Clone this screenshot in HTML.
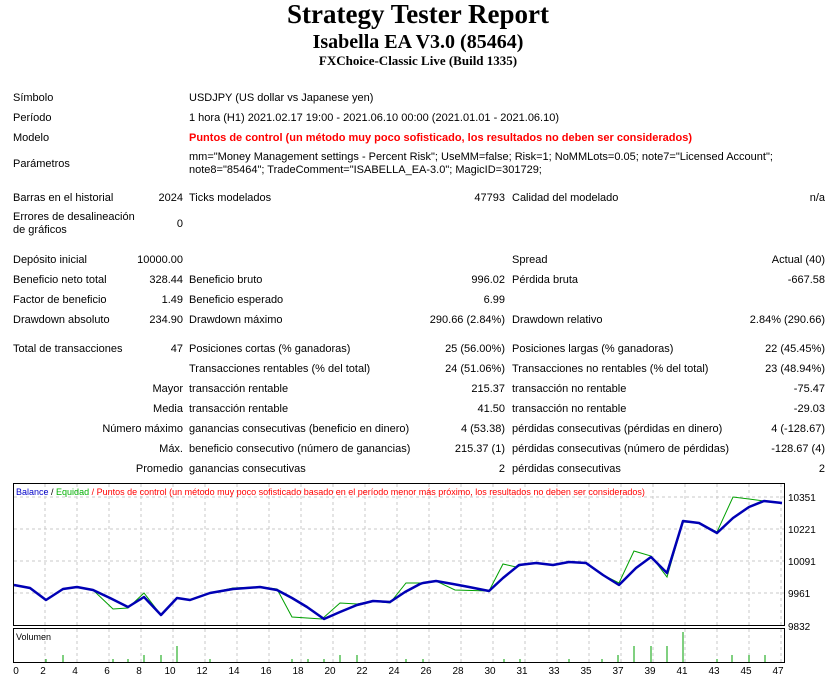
<!DOCTYPE html>
<html><head><meta charset="utf-8">
<style>
body{margin:0;width:836px;height:680px;background:#fff;position:relative;overflow:hidden;font-family:"Liberation Sans",sans-serif;font-size:11px;color:#000}
.t{position:absolute;white-space:nowrap;line-height:14px}
.r{text-align:right}
h1,h2,h3{position:absolute;left:0;width:836px;text-align:center;margin:0;font-family:"Liberation Serif",serif;font-weight:bold;white-space:nowrap}
</style></head><body>
<h1 style="top:-1px;font-size:27px;line-height:30px">Strategy Tester Report</h1>
<h2 style="top:30px;font-size:20px;line-height:24px">Isabella EA V3.0 (85464)</h2>
<h3 style="top:53px;font-size:13px;line-height:16px">FXChoice-Classic Live (Build 1335)</h3>

<div class="t" style="left:13px;top:91px">Símbolo</div>
<div class="t" style="left:189px;top:91px">USDJPY (US dollar vs Japanese yen)</div>
<div class="t" style="left:13px;top:111px">Período</div>
<div class="t" style="left:189px;top:111px">1 hora (H1) 2021.02.17 19:00 - 2021.06.10 00:00 (2021.01.01 - 2021.06.10)</div>
<div class="t" style="left:13px;top:131px">Modelo</div>
<div class="t" style="left:189px;top:131px;color:#f00;font-weight:bold">Puntos de control (un método muy poco sofisticado, los resultados no deben ser considerados)</div>
<div class="t" style="left:13px;top:157px">Parámetros</div>
<div class="t" style="left:189px;top:151px;line-height:13px">mm="Money Management settings - Percent Risk"; UseMM=false; Risk=1; NoMMLots=0.05; note7="Licensed Account";<br>note8="85464"; TradeComment="ISABELLA_EA-3.0"; MagicID=301729;</div>

<div class="t" style="left:13px;top:191px">Barras en el historial</div>
<div class="t r" style="right:653px;top:191px">2024</div>
<div class="t" style="left:189px;top:191px">Ticks modelados</div>
<div class="t r" style="right:331px;top:191px">47793</div>
<div class="t" style="left:512px;top:191px">Calidad del modelado</div>
<div class="t r" style="right:11px;top:191px">n/a</div>
<div class="t" style="left:13px;top:211px;line-height:13px">Errores de desalineación<br>de gráficos</div>
<div class="t r" style="right:653px;top:217px">0</div>

<div class="t" style="left:13px;top:253px">Depósito inicial</div>
<div class="t r" style="right:653px;top:253px">10000.00</div>
<div class="t" style="left:512px;top:253px">Spread</div>
<div class="t r" style="right:11px;top:253px">Actual (40)</div>

<div class="t" style="left:13px;top:273px">Beneficio neto total</div>
<div class="t r" style="right:653px;top:273px">328.44</div>
<div class="t" style="left:189px;top:273px">Beneficio bruto</div>
<div class="t r" style="right:331px;top:273px">996.02</div>
<div class="t" style="left:512px;top:273px">Pérdida bruta</div>
<div class="t r" style="right:11px;top:273px">-667.58</div>

<div class="t" style="left:13px;top:293px">Factor de beneficio</div>
<div class="t r" style="right:653px;top:293px">1.49</div>
<div class="t" style="left:189px;top:293px">Beneficio esperado</div>
<div class="t r" style="right:331px;top:293px">6.99</div>

<div class="t" style="left:13px;top:313px">Drawdown absoluto</div>
<div class="t r" style="right:653px;top:313px">234.90</div>
<div class="t" style="left:189px;top:313px">Drawdown máximo</div>
<div class="t r" style="right:331px;top:313px">290.66 (2.84%)</div>
<div class="t" style="left:512px;top:313px">Drawdown relativo</div>
<div class="t r" style="right:11px;top:313px">2.84% (290.66)</div>

<div class="t" style="left:13px;top:342px">Total de transacciones</div>
<div class="t r" style="right:653px;top:342px">47</div>
<div class="t" style="left:189px;top:342px">Posiciones cortas (% ganadoras)</div>
<div class="t r" style="right:331px;top:342px">25 (56.00%)</div>
<div class="t" style="left:512px;top:342px">Posiciones largas (% ganadoras)</div>
<div class="t r" style="right:11px;top:342px">22 (45.45%)</div>

<div class="t" style="left:189px;top:362px">Transacciones rentables (% del total)</div>
<div class="t r" style="right:331px;top:362px">24 (51.06%)</div>
<div class="t" style="left:512px;top:362px">Transacciones no rentables (% del total)</div>
<div class="t r" style="right:11px;top:362px">23 (48.94%)</div>

<div class="t r" style="right:653px;top:382px">Mayor</div>
<div class="t" style="left:189px;top:382px">transacción rentable</div>
<div class="t r" style="right:331px;top:382px">215.37</div>
<div class="t" style="left:512px;top:382px">transacción no rentable</div>
<div class="t r" style="right:11px;top:382px">-75.47</div>

<div class="t r" style="right:653px;top:402px">Media</div>
<div class="t" style="left:189px;top:402px">transacción rentable</div>
<div class="t r" style="right:331px;top:402px">41.50</div>
<div class="t" style="left:512px;top:402px">transacción no rentable</div>
<div class="t r" style="right:11px;top:402px">-29.03</div>

<div class="t r" style="right:653px;top:422px">Número máximo</div>
<div class="t" style="left:189px;top:422px">ganancias consecutivas (beneficio en dinero)</div>
<div class="t r" style="right:331px;top:422px">4 (53.38)</div>
<div class="t" style="left:512px;top:422px">pérdidas consecutivas (pérdidas en dinero)</div>
<div class="t r" style="right:11px;top:422px">4 (-128.67)</div>

<div class="t r" style="right:653px;top:442px">Máx.</div>
<div class="t" style="left:189px;top:442px">beneficio consecutivo (número de ganancias)</div>
<div class="t r" style="right:331px;top:442px">215.37 (1)</div>
<div class="t" style="left:512px;top:442px">pérdidas consecutivas (número de pérdidas)</div>
<div class="t r" style="right:11px;top:442px">-128.67 (4)</div>

<div class="t r" style="right:653px;top:462px">Promedio</div>
<div class="t" style="left:189px;top:462px">ganancias consecutivas</div>
<div class="t r" style="right:331px;top:462px">2</div>
<div class="t" style="left:512px;top:462px">pérdidas consecutivas</div>
<div class="t r" style="right:11px;top:462px">2</div>

<svg style="position:absolute;left:0;top:0" width="836" height="680" font-family="Liberation Sans, sans-serif">
<g stroke="#c8c8c8" stroke-dasharray="3,3" stroke-width="1">
<path d="M45 484V626M77 484V626M109 484V626M141 484V626M173 484V626M205 484V626M237 484V626M269 484V626M301 484V626M333 484V626M365 484V626M397 484V626M429 484V626M461 484V626M493 484V626M525 484V626M557 484V626M589 484V626M621 484V626M653 484V626M685 484V626M717 484V626M749 484V626M781 484V626"/>
<path d="M45 629V662M77 629V662M109 629V662M141 629V662M173 629V662M205 629V662M237 629V662M269 629V662M301 629V662M333 629V662M365 629V662M397 629V662M429 629V662M461 629V662M493 629V662M525 629V662M557 629V662M589 629V662M621 629V662M653 629V662M685 629V662M717 629V662M749 629V662M781 629V662"/>
<path d="M14 497H784M14 529H784M14 561H784M14 593H784"/>
</g>
<rect x="13.5" y="483.5" width="771" height="142" fill="none" stroke="#000"/>
<rect x="13.5" y="628.5" width="771" height="34" fill="none" stroke="#000"/>
<text x="16" y="495" font-size="9"><tspan fill="#0000c8">Balance</tspan><tspan fill="#000"> / </tspan><tspan fill="#00b000">Equidad</tspan><tspan fill="#f00"> / Puntos de control (un método muy poco sofisticado basado en el período menor más próximo, los resultados no deben ser considerados)</tspan></text>
<polyline fill="none" stroke="#00a000" stroke-width="1" points="14,585 30,588 46,600 63,589 77,587 93,590 113,609 128,608 144,593 161,615 177,598 190,600 210,593 233,588 260,587 277,589 292,617 322,619 340,603 357,604 373,601 390,603 406,583 420,583 436,581 455,590 489,591 503,564 516,567 529,563 536,563 553,565 569,562 586,563 603,575 619,583 634,551 651,556 667,577 683,522 699,523 717,532 733,497 749,499 764,501"/>
<polyline fill="none" stroke="#0000b4" stroke-width="2.5" stroke-linejoin="round" points="14,585 30,588 46,600 63,589 77,587 93,590 110,598 128,607 144,597 161,615 177,598 190,600 210,593 233,589 260,587 277,590 292,598 307,607 324,619 340,612 357,605 373,601 390,602 405,592 420,584 423,583 436,581 453,584 469,587 489,591 503,578 519,565 536,563 553,565 569,562 586,563 603,575 619,585 636,568 651,557 667,573 683,521 699,523 717,533 733,518 749,507 764,501 782,503"/>
<text x="16" y="640" font-size="9">Volumen</text>
<g stroke="#00a000" stroke-width="1">
<path d="M46 662v-3M63 662v-7M113 662v-3M128 662v-3M144 662v-7M161 662v-7M177 662v-16M210 662v-3M292 662v-3M308 662v-3M324 662v-3M340 662v-7M357 662v-7M406 662v-3M423 662v-3M504 662v-3M520 662v-3M569 662v-3M602 662v-3M618 662v-7M634 662v-16M651 662v-16M667 662v-16M683 662v-30M717 662v-3M732 662v-7M749 662v-7M765 662v-7"/>
</g>
<g font-size="10" fill="#000">
<text x="788" y="501">10351</text><text x="788" y="533">10221</text><text x="788" y="565">10091</text><text x="788" y="597">9961</text><text x="788" y="630">9832</text>
</g>
<g font-size="10" fill="#000" text-anchor="middle">
<text x="16" y="674">0</text><text x="43" y="674">2</text><text x="75" y="674">4</text><text x="107" y="674">6</text><text x="139" y="674">8</text><text x="170" y="674">10</text><text x="202" y="674">12</text><text x="234" y="674">14</text><text x="266" y="674">16</text><text x="298" y="674">18</text><text x="330" y="674">20</text><text x="362" y="674">22</text><text x="394" y="674">24</text><text x="426" y="674">26</text><text x="458" y="674">28</text><text x="490" y="674">30</text><text x="522" y="674">31</text><text x="554" y="674">33</text><text x="586" y="674">35</text><text x="618" y="674">37</text><text x="650" y="674">39</text><text x="682" y="674">41</text><text x="714" y="674">43</text><text x="746" y="674">45</text><text x="778" y="674">47</text>
</g>
</svg>
</body></html>
